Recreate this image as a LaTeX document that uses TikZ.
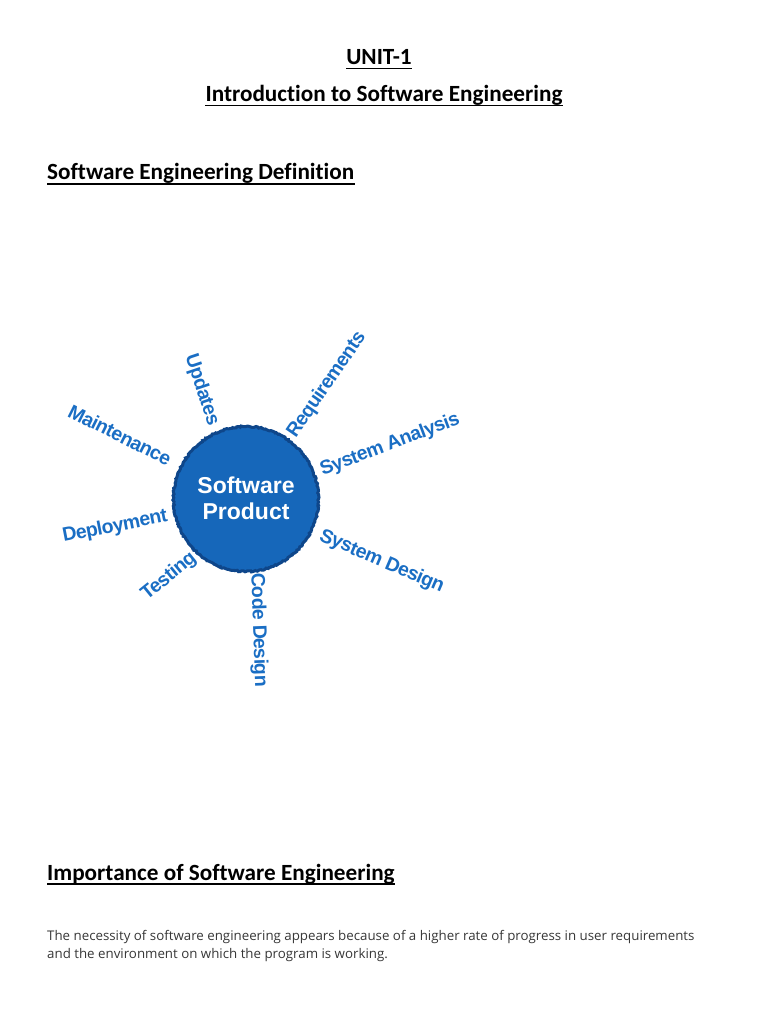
\documentclass[tikz,border=0pt]{standalone}
\usepackage{fontspec}
\setmainfont{Carlito}[Ligatures=CommonOff]
\newfontfamily\labfont{Liberation Sans}[LetterSpace=-3]
\newfontfamily\discfont{Liberation Sans}
\newfontfamily\bodyfont{Open Sans}
\usetikzlibrary{decorations.pathmorphing}
\definecolor{labblue}{RGB}{26,110,196}
\definecolor{discfill}{RGB}{22,103,186}
\definecolor{discedge}{RGB}{14,70,138}
\definecolor{bodygray}{RGB}{55,55,55}
\tikzset{
  heading/.style={inner sep=0pt, font=\bfseries\fontsize{23.2}{25}\selectfont, text=black},
  bodytext/.style={inner sep=0pt, anchor=base west, font=\bodyfont\fontsize{13.3}{16}\selectfont, text=bodygray},
  spoke/.style={inner sep=0pt, font=\labfont\bfseries\fontsize{19.5}{20}\selectfont, text=labblue},
  uline/.style={line width=1.3pt, black},
  disctext/.style={inner sep=0pt, font=\discfont\bfseries\fontsize{23}{26.5}\selectfont, text=white, align=center}
}
\begin{document}
\begin{tikzpicture}[x=1pt,y=-1pt]
\useasboundingbox[fill=white] (0,0) rectangle (768,1024);
% headings
\node[heading, anchor=base] (unit) at (379,65) {UNIT-1};
\draw[uline] ([yshift=-3.5pt]unit.base west) -- ([yshift=-3.5pt]unit.base east);
\node[heading, anchor=base] (intro) at (384,101.7) {Introduction to Software Engineering};
\draw[uline] ([yshift=-3.8pt]intro.base west) -- ([yshift=-3.8pt]intro.base east);
\node[heading, anchor=base west] (defn) at (47,180) {Software Engineering Definition};
\draw[uline] ([yshift=-4pt]defn.base west) -- ([yshift=-4pt]defn.base east);
% disc
\fill[discfill] (246,499) circle[radius=73];
\draw[discedge, line width=3pt, decorate, decoration={random steps, segment length=1.5pt, amplitude=0.7pt}] (246,499) circle[radius=72.5];
\node[disctext] (prod) at (246,498.5) {Software\\[-1pt]Product};
% spokes
\node[spoke, rotate=-71.6] (upd) at (201.7,390) {Updates};
\node[spoke, rotate=55.4] (req) at (326.7,385) {Requirements};
\node[spoke, rotate=20.6] (sysa) at (390,445) {System Analysis};
\node[spoke, rotate=-23.2] (sysd) at (381.7,561.7) {System Design};
\node[spoke, rotate=-88] (code) at (258.3,630) {Code Design};
\node[spoke, rotate=39] (test) at (169,576.7) {Testing};
\node[spoke, rotate=11] (dep) at (115,526.7) {Deployment};
\node[spoke, rotate=-26.6] (mnt) at (120,435) {Maintenance};
% importance
\node[heading, anchor=base west] (imp) at (47,880) {Importance of Software Engineering};
\draw[uline] ([yshift=-4pt]imp.base west) -- ([yshift=-4pt]imp.base east);
\node[bodytext] (l1) at (47,940) {The necessity of software engineering appears because of a higher rate of progress in user requirements};
\node[bodytext] (l2) at (47,958) {and the environment on which the program is working.};
\end{tikzpicture}
\end{document}
